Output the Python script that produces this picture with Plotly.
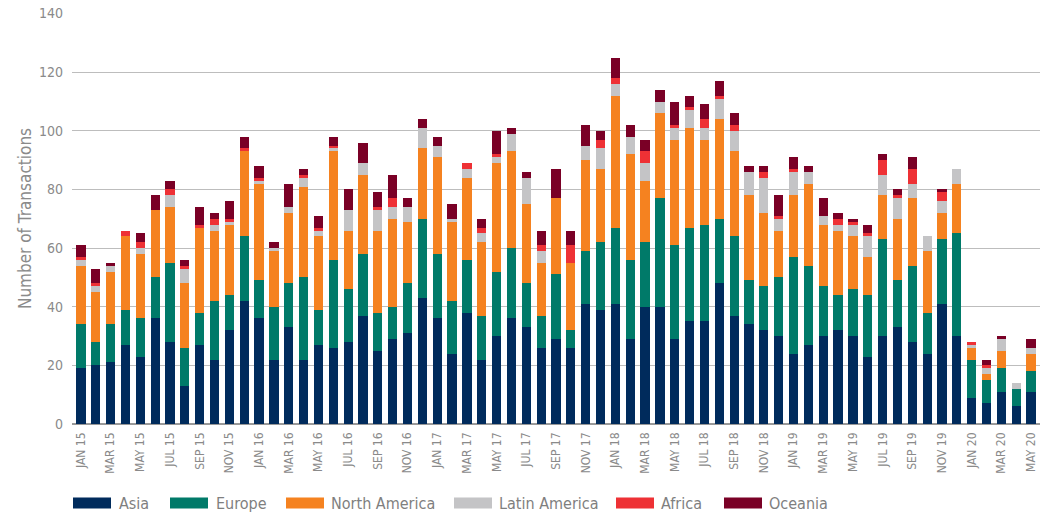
import plotly.graph_objects as go

months = [
    "JAN 15", "FEB 15", "MAR 15", "APR 15", "MAY 15", "JUN 15", "JUL 15", "AUG 15", "SEP 15", "OCT 15", "NOV 15", "DEC 15",
    "JAN 16", "FEB 16", "MAR 16", "APR 16", "MAY 16", "JUN 16", "JUL 16", "AUG 16", "SEP 16", "OCT 16", "NOV 16", "DEC 16",
    "JAN 17", "FEB 17", "MAR 17", "APR 17", "MAY 17", "JUN 17", "JUL 17", "AUG 17", "SEP 17", "OCT 17", "NOV 17", "DEC 17",
    "JAN 18", "FEB 18", "MAR 18", "APR 18", "MAY 18", "JUN 18", "JUL 18", "AUG 18", "SEP 18", "OCT 18", "NOV 18", "DEC 18",
    "JAN 19", "FEB 19", "MAR 19", "APR 19", "MAY 19", "JUN 19", "JUL 19", "AUG 19", "SEP 19", "OCT 19", "NOV 19", "DEC 19",
    "JAN 20", "FEB 20", "MAR 20", "APR 20", "MAY 20",
]
tick_labels = months[::2]

asia = [19, 20, 21, 27, 23, 36, 28, 13, 27, 22, 32, 42,
        36, 22, 33, 22, 27, 26, 28, 37, 25, 29, 31, 43,
        36, 24, 38, 22, 30, 36, 33, 26, 29, 26, 41, 39,
        41, 29, 40, 40, 29, 35, 35, 48, 37, 34, 32, 30,
        24, 27, 30, 32, 30, 23, 30, 33, 28, 24, 41, 30,
        9, 7, 11, 6, 11]
europe = [15, 8, 13, 12, 13, 14, 27, 13, 11, 20, 12, 22,
          13, 18, 15, 28, 12, 30, 18, 21, 13, 11, 17, 27,
          22, 18, 18, 15, 22, 24, 15, 11, 22, 6, 18, 23,
          26, 27, 22, 37, 32, 32, 33, 22, 27, 15, 15, 20,
          33, 27, 17, 12, 16, 21, 33, 16, 26, 14, 22, 35,
          13, 8, 8, 6, 7]
north_america = [20, 17, 18, 25, 22, 23, 19, 22, 29, 24, 24, 29,
                 33, 19, 24, 31, 25, 37, 20, 27, 28, 30, 21, 24,
                 33, 27, 28, 25, 37, 33, 27, 18, 26, 23, 31, 25,
                 45, 36, 21, 29, 36, 34, 29, 34, 29, 29, 25, 16,
                 21, 28, 21, 22, 18, 13, 15, 21, 23, 21, 9, 17,
                 4, 2, 6, 0, 6]
latin_america = [2, 2, 2, 0, 2, 0, 4, 5, 0, 2, 1, 0,
                 1, 1, 2, 3, 2, 1, 7, 4, 7, 4, 5, 7,
                 4, 1, 3, 3, 2, 6, 9, 4, 0, 0, 5, 7,
                 4, 6, 6, 4, 4, 6, 4, 7, 7, 8, 12, 4,
                 8, 4, 3, 2, 4, 7, 7, 7, 5, 5, 4, 5,
                 1, 2, 4, 2, 2]
africa = [1, 1, 0, 2, 2, 0, 2, 1, 1, 2, 1, 1,
          1, 0, 0, 1, 1, 1, 0, 0, 1, 3, 0, 0,
          0, 0, 2, 2, 1, 0, 0, 2, 0, 6, 0, 3,
          2, 0, 4, 0, 1, 1, 3, 1, 2, 0, 2, 1,
          1, 0, 0, 2, 1, 1, 5, 1, 5, 0, 3, 0,
          1, 1, 0, 0, 0]
oceania = [4, 5, 1, 0, 3, 5, 3, 2, 6, 2, 6, 4,
           4, 2, 8, 2, 4, 3, 7, 7, 5, 8, 3, 3,
           3, 5, 0, 3, 8, 2, 2, 5, 10, 5, 7, 3,
           7, 4, 4, 4, 8, 4, 5, 5, 4, 2, 2, 7,
           4, 2, 6, 2, 1, 3, 2, 2, 4, 0, 1, 0,
           0, 2, 1, 0, 3]

y_ticks = [0, 20, 40, 60, 80, 100, 120, 140]

series = [
    ("Asia", asia, "#002b5c"),
    ("Europe", europe, "#007a69"),
    ("North America", north_america, "#f58220"),
    ("Latin America", latin_america, "#c4c4c6"),
    ("Africa", africa, "#ee3135"),
    ("Oceania", oceania, "#7a0026"),
]

FONT = "DejaVu Sans Condensed, Liberation Sans Narrow, Roboto, sans-serif"

# layout geometry (body margin removed by post_script, so page px == figure px)
W, H = 1044, 516
ML, MR, MT, MB = 72, 4, 13, 92
PW = W - ML - MR
PH = H - MT - MB


def px_x(wx):
    return (wx - ML) / PW


def px_y(wy):
    return (H - MB - wy) / PH


legend_swatch_x = [73, 170, 286, 454, 616, 724]
legend_text_x = [117, 214, 329, 497, 659, 767]
legend_y = 503

fig = go.Figure()
for name, vals, col in series:
    fig.add_trace(go.Bar(x=months, y=vals, name=name, showlegend=False,
                         marker=dict(color=col, line=dict(width=0))))

shapes = []
annotations = []
for (name, _, col), sx, tx in zip(series, legend_swatch_x, legend_text_x):
    shapes.append(dict(type="rect", xref="paper", yref="paper",
                       x0=px_x(sx), x1=px_x(sx + 38), y0=px_y(legend_y + 5.5), y1=px_y(legend_y - 5.5),
                       fillcolor=col, line=dict(width=0)))
    annotations.append(dict(text=name, xref="paper", yref="paper", x=px_x(tx), y=px_y(legend_y),
                            xanchor="left", yanchor="middle", showarrow=False,
                            font=dict(family=FONT, size=16, color="#7f7f7f")))

fig.update_layout(
    barmode="stack",
    bargap=0.38,
    width=W,
    height=H,
    margin=dict(l=ML, r=MR, t=MT, b=MB, autoexpand=False),
    plot_bgcolor="white",
    paper_bgcolor="white",
    font=dict(family=FONT, color="#808080", size=13),
    showlegend=False,
    shapes=shapes,
    annotations=annotations,
    xaxis=dict(
        type="category",
        categoryorder="array",
        categoryarray=months,
        tickmode="array",
        tickvals=tick_labels,
        ticktext=tick_labels,
        tickangle=-90,
        tickfont=dict(family=FONT, size=12, color="#8a8a8a"),
        ticklabelstandoff=5,
        showgrid=False,
        ticks="",
        range=[-0.6, 64.6],
    ),
    yaxis=dict(
        range=[0, 140.2],
        tickvals=y_ticks,
        showgrid=True,
        gridcolor="#bdbdbd",
        gridwidth=1,
        zeroline=True,
        zerolinecolor="#999999",
        zerolinewidth=1.5,
        tickfont=dict(family=FONT, size=14, color="#8a8a8a"),
        ticklabelstandoff=8,
        ticklabeloverflow="allow",
        title=dict(text="Number of Transactions", font=dict(family=FONT, size=17, color="#8a8a8a"), standoff=3),
        ticks="",
    ),
)

fig.write_html("out.html", config={"displayModeBar": False},
               post_script="document.body.style.margin='0';")
